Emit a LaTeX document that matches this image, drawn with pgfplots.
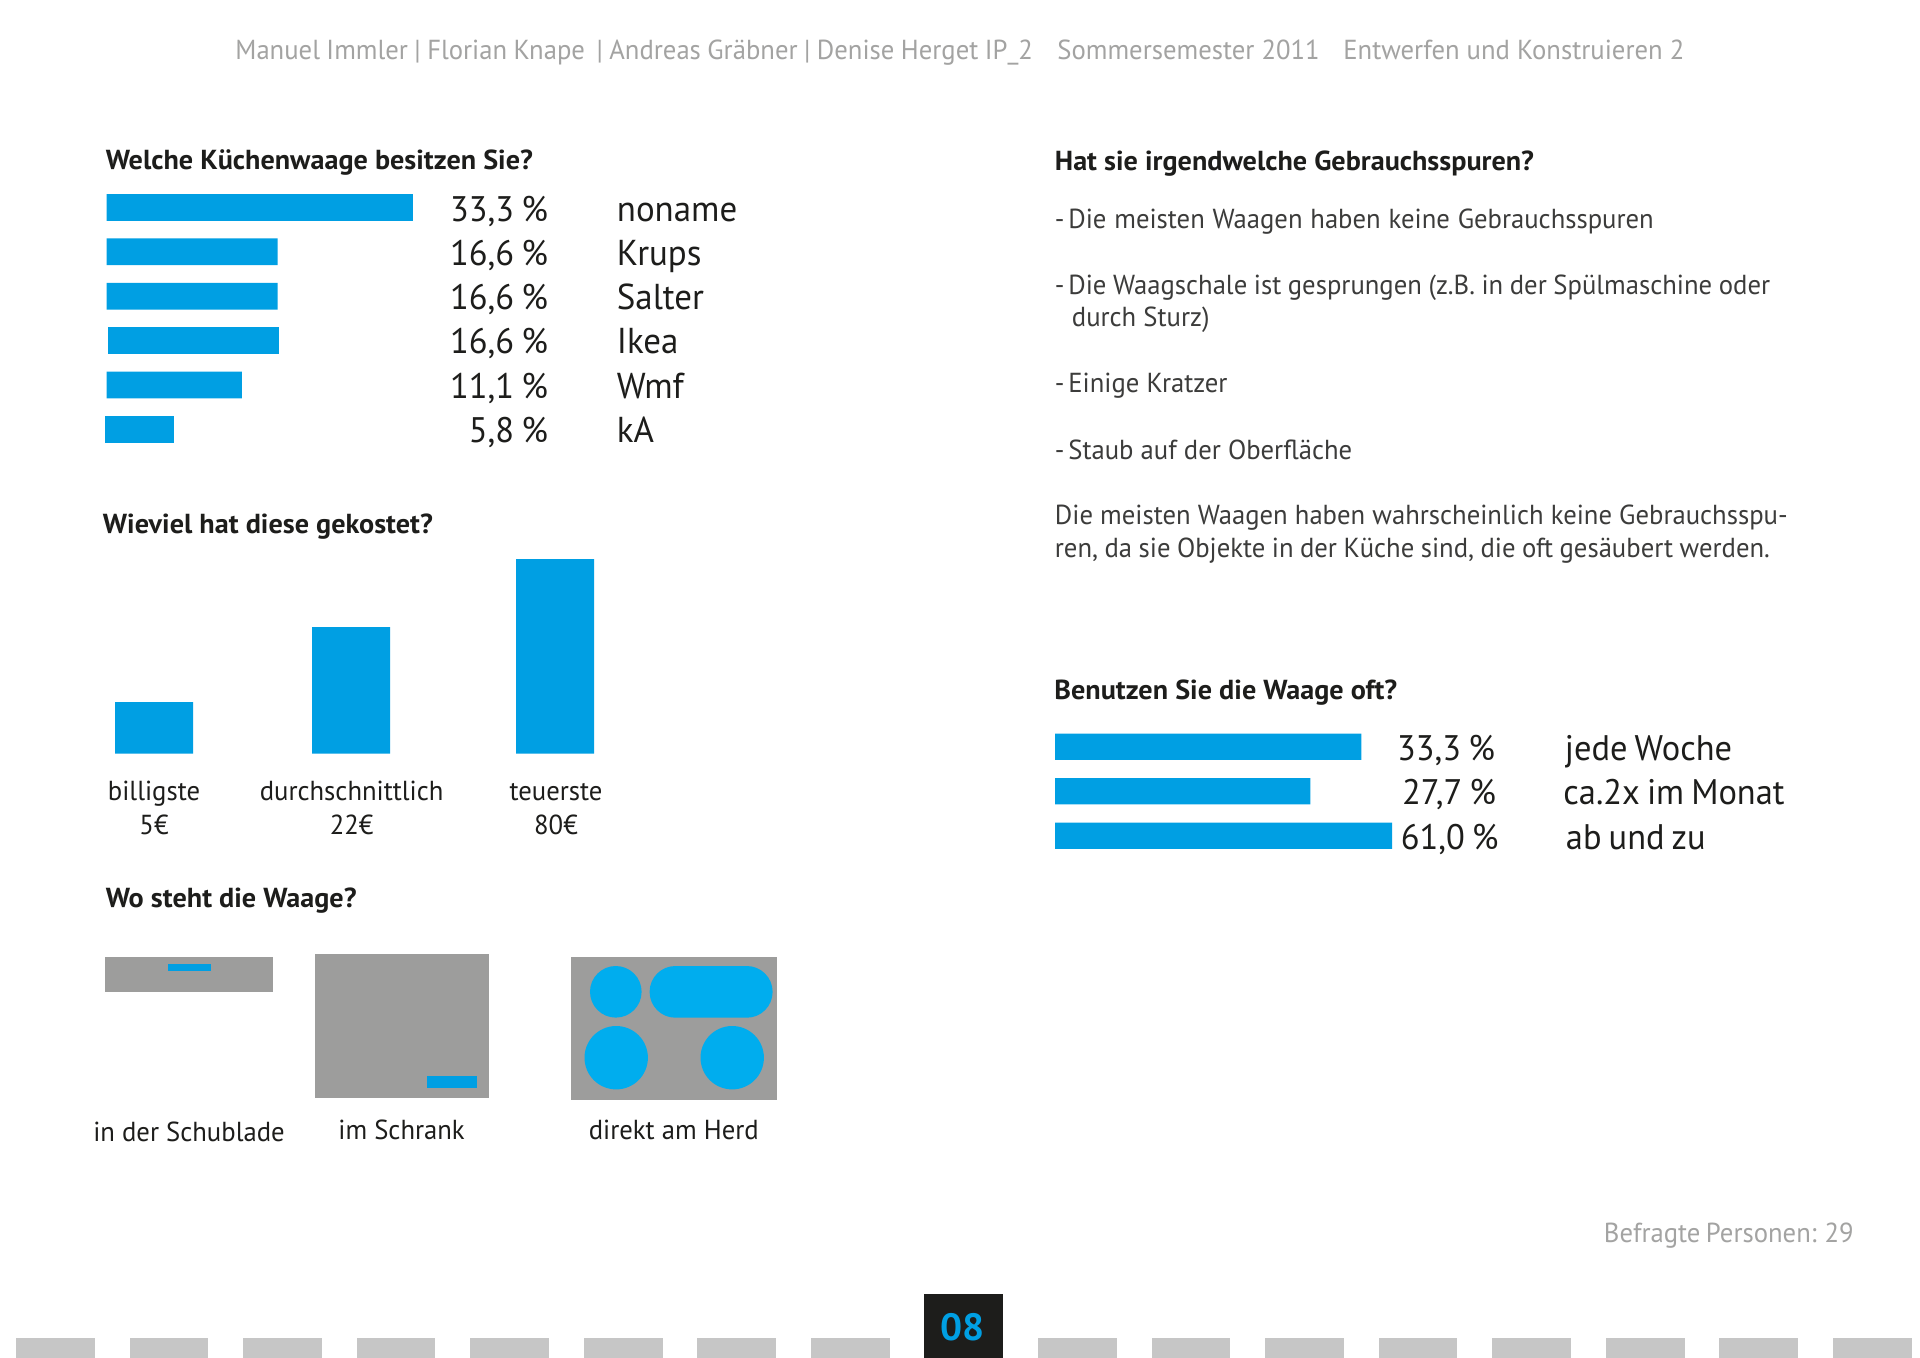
\documentclass[border=0pt]{standalone}
\usepackage{pgfplots}
\pgfplotsset{compat=1.18}
\usepackage{fontspec}
\setmainfont{PT Sans}[FakeStretch=0.97,BoldFeatures={FakeStretch=1.025}]
\definecolor{barblue}{HTML}{009FE3}
\definecolor{hobblue}{HTML}{00ADEE}
\definecolor{boxgrey}{HTML}{9D9D9C}
\definecolor{stripgrey}{HTML}{C6C6C6}
\definecolor{headgrey}{HTML}{A3A3A2}
\definecolor{ink}{HTML}{1D1D1B}
\definecolor{bodyink}{HTML}{3C3C3B}
\newcommand{\Sz}[1]{\pgfmathsetmacro\szz{#1*0.5}\fontsize{\szz pt}{\szz pt}\selectfont}
% #1 anchor, #2 position (px), #3 size (px), #4 colour, #5 text
\newcommand{\Txt}[5]{\node[anchor=#1,inner sep=0pt,text=#4,font=\Sz{#3}] at (#2) {#5};}
\newcommand{\Dash}{-\hspace{0.14em}}
\pgfplotsset{chart/.style={hide axis,scale only axis,clip=false,anchor=south west}}
\begin{document}
\begin{tikzpicture}
\useasboundingbox (0pt,0pt) rectangle (960pt,-679pt);
\fill[white] (0pt,0pt) rectangle (960pt,-679pt);
% Welche Kuechenwaage besitzen Sie? (bar lengths as drawn, scaled so the first = 33.3)
\begin{axis}[chart,at={(53.35pt,-225.8pt)},width=160pt,height=133.2pt,xmin=0,xmax=34.8,ymin=-0.5,ymax=5.5,y dir=reverse]
\addplot[xbar,bar width=13.35pt,bar shift=0pt,fill=barblue,draw=none] coordinates {(33.3,0) (18.6,1) (18.6,2) (14.7,4)};
\addplot[xbar,bar width=13.35pt,bar shift=0pt,fill=barblue,draw=none,xshift=0.65pt] coordinates {(18.6,3)};
\addplot[xbar,bar width=13.35pt,bar shift=0pt,fill=barblue,draw=none,xshift=-0.65pt] coordinates {(7.5,5)};
\end{axis}
% Wieviel hat diese gekostet? (heights as drawn, scaled so the last = 80)
\begin{axis}[chart,at={(50pt,-376.8pt)},width=260pt,height=97.2pt,xmin=100,xmax=620,ymin=0,ymax=80]
\addplot[ybar,bar width=39pt,bar shift=0pt,fill=barblue,draw=none] coordinates {(154,21.2) (351.2,52.0) (555,80)};
\end{axis}
% Benutzen Sie die Waage oft?
\begin{axis}[chart,at={(527.6pt,-428.95pt)},width=184.4pt,height=66.67pt,xmin=0,xmax=40.1,ymin=-0.5,ymax=2.5,y dir=reverse]
\addplot[xbar,bar width=13.15pt,bar shift=0pt,fill=barblue,draw=none] coordinates {(33.3,0) (27.75,1) (36.63,2)};
\end{axis}
\begin{scope}[x=0.5pt,y=-0.5pt]
% header
\Txt{base west}{235,60}{27.5}{headgrey}{\spaceskip=0.235em Manuel Immler | Florian Knape\hspace{0.42em}| Andreas Gräbner | Denise Herget IP\_2}
\Txt{base west}{1057,60}{27.5}{headgrey}{Sommersemester 2011}
\Txt{base west}{1343,60}{27.5}{headgrey}{Entwerfen und Konstruieren 2}
% chart 1 text
\Txt{base west}{105.5,170}{27.5}{ink}{\bfseries Welche Küchenwaage besitzen Sie?}
\foreach \yy/\pc/\nm in {221.5/33{,}3/noname,265.3/16{,}6/Krups,309.7/16{,}6/Salter,354/16{,}6/Ikea,398.4/11{,}1/Wmf,442.8/5{,}8/kA}{
  \Txt{base east}{548.3,\yy}{35.5}{ink}{\pc\hspace{0.2em}\%}
  \Txt{base west}{616.5,\yy}{36}{ink}{\nm}
}
% chart 2 text
\Txt{base west}{102.5,533.6}{27.5}{ink}{\bfseries Wieviel hat diese gekostet?}
\foreach \xx/\aa/\bb in {154/billigste/5€,351.65/durchschnittlich/22€,556/teuerste/80€}{
  \Txt{base}{\xx,800.7}{27.5}{ink}{\aa}
  \Txt{base}{\xx,834}{27.5}{ink}{\bb}
}
% Wo steht die Waage?
\Txt{base west}{105.5,907}{27.5}{ink}{\bfseries Wo steht die Waage?}
\fill[boxgrey] (105.3,957) rectangle (272.6,992);
\fill[barblue] (167.5,964.3) rectangle (210.8,970.7);
\fill[boxgrey] (315,954.3) rectangle (488.5,1098.3);
\fill[barblue] (427,1075.7) rectangle (477,1088);
\fill[boxgrey] (570.5,956.7) rectangle (776.5,1100.3);
\fill[hobblue] (615.8,991.8) circle[radius=25.8];
\fill[hobblue,rounded corners=12.9pt] (649.6,966) rectangle (772.6,1017.7);
\fill[hobblue] (616.2,1057.7) circle[radius=31.7];
\fill[hobblue] (732.2,1057.7) circle[radius=31.7];
\Txt{base}{189,1141.7}{27.5}{ink}{in der Schublade}
\Txt{base}{401.6,1139}{27.5}{ink}{im Schrank}
\Txt{base}{673.8,1139}{27.5}{ink}{direkt am Herd}
% right column
\Txt{base west}{1054.5,170.8}{27.5}{ink}{\bfseries Hat sie irgendwelche Gebrauchsspuren?}
\Txt{base west}{1054.5,228.5}{27.5}{bodyink}{\spaceskip=0.285em\Dash Die meisten Waagen haben keine Gebrauchsspuren}
\Txt{base west}{1054.5,294.8}{27.5}{bodyink}{\spaceskip=0.24em\Dash Die Waagschale ist gesprungen (z.B. in der Spülmaschine oder}
\Txt{base west}{1071.5,326.8}{27.5}{bodyink}{durch Sturz)}
\Txt{base west}{1054.5,393}{27.5}{bodyink}{\Dash Einige Kratzer}
\Txt{base west}{1054.5,459.4}{27.5}{bodyink}{\Dash Staub auf der Oberfläche}
\Txt{base west}{1054.5,524.5}{27.5}{bodyink}{\spaceskip=0.26em Die meisten Waagen haben wahrscheinlich keine Gebrauchsspu-}
\Txt{base west}{1054.5,557.7}{27.5}{bodyink}{\spaceskip=0.235em ren, da sie Objekte in der Küche sind, die oft gesäubert werden.}
% chart 3 text
\Txt{base west}{1054,699}{27.5}{ink}{\bfseries Benutzen Sie die Waage oft?}
\foreach \yy/\pc/\nm/\xn/\xe in {760/33{,}3/jede Woche/1564.5/1495.3,804.3/27{,}7/ca.2x im Monat/1563/1496.5,849/61{,}0/ab und zu/1565.5/1499}{
  \Txt{base east}{\xe,\yy}{35.5}{ink}{\pc\hspace{0.2em}\%}
  \Txt{base west}{\xn,\yy}{35.5}{ink}{\spaceskip=0.2em \nm}
}
% footer
\Txt{base east}{1854,1242}{27.5}{headgrey}{\spaceskip=0.2em Befragte Personen: 29}
\foreach \k in {0,...,16}{
  \ifnum\k=8\relax\else
  \pgfmathsetmacro\xa{16+113.55*\k}
  \fill[stripgrey] (\xa,1338.3) rectangle (\xa+78.8,1358);
  \fi
}
\fill[ink] (923.8,1294.3) rectangle (1003.3,1358);
\Txt{base}{962.7,1340.7}{38}{barblue}{\bfseries 08}
\end{scope}
\end{tikzpicture}
\end{document}
